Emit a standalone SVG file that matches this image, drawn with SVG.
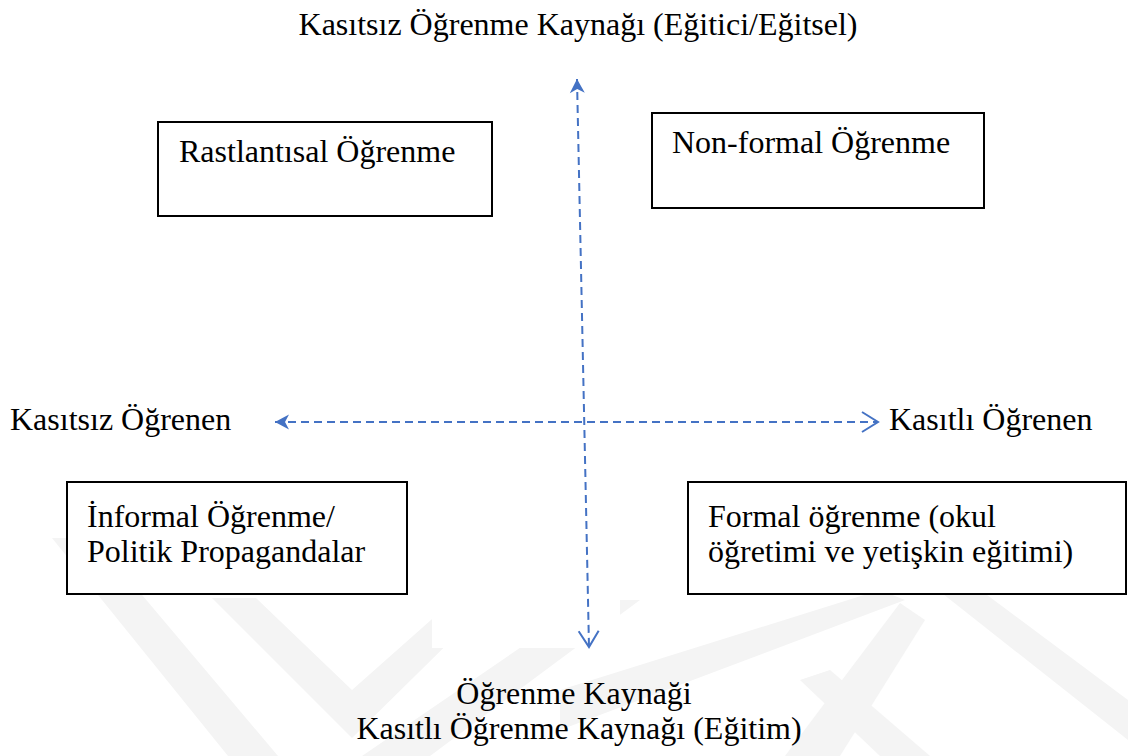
<svg xmlns="http://www.w3.org/2000/svg" width="1128" height="756" viewBox="0 0 1128 756">
  <style>
    .t { font-family: "Liberation Serif", "Times New Roman", serif; font-size: 32px; fill: #000; }
    .box { fill: #fff; stroke: #000; stroke-width: 2; }
    .conn { fill: none; stroke: #4472C4; stroke-width: 2; stroke-dasharray: 8 5; }
    .wm { fill: #f4f4f4; }
  </style>
  <defs>
    <marker id="headFilled" markerUnits="userSpaceOnUse" viewBox="-16 -9 18 18" refX="0" refY="0" markerWidth="18" markerHeight="18" orient="auto-start-reverse">
      <path d="M0,0 L-14,-7.5 L-10,0 L-14,7.5 Z" fill="#4472C4"/>
    </marker>
    <marker id="headOpen" markerUnits="userSpaceOnUse" viewBox="-18 -12 20 24" refX="0" refY="0" markerWidth="20" markerHeight="24" orient="auto">
      <path d="M-16,-10 L0,0 L-16,10" fill="none" stroke="#4472C4" stroke-width="2"/>
    </marker>
  </defs>
  <rect width="1128" height="756" fill="#fff"/>
  <g id="watermark">
    <polygon class="wm" points="52,538 94,538 278,756 228,756"/>
    <polygon class="wm" points="212,598 256,598 352,690 440,612 480,612 352,738"/>
    <polygon class="wm" points="362,756 430,756 640,600 590,600"/>
    <polygon class="wm" points="560,690 560,730 905,600 880,590"/>
    <polygon class="wm" points="785,756 840,756 925,620 900,603"/>
    <polygon class="wm" points="800,680 830,670 930,756 880,756"/>
    <polygon class="wm" points="900,560 940,560 1128,700 1128,740"/>
    <rect x="432" y="540" width="188" height="108" fill="#fff"/>
  </g>
  <g id="title">
    <text class="t" x="578" y="35" text-anchor="middle">Kasıtsız Öğrenme Kaynağı (Eğitici/Eğitsel)</text>
  </g>
  <g id="connectors">
    <line class="conn" x1="577" y1="79" x2="589" y2="647" marker-start="url(#headFilled)" marker-end="url(#headOpen)"/>
    <line class="conn" x1="275" y1="422" x2="878" y2="422" marker-start="url(#headFilled)" marker-end="url(#headOpen)"/>
  </g>
  <g id="node-rastlantisal">
    <rect class="box" x="158" y="122" width="334" height="94"/>
    <text class="t" x="179" y="162">Rastlantısal Öğrenme</text>
  </g>
  <g id="node-nonformal">
    <rect class="box" x="652" y="113" width="332" height="95"/>
    <text class="t" x="672" y="153">Non-formal Öğrenme</text>
  </g>
  <g id="node-informal">
    <rect class="box" x="67" y="482" width="340" height="112"/>
    <text class="t" x="87" y="527">İnformal Öğrenme/</text>
    <text class="t" x="87" y="562">Politik Propagandalar</text>
  </g>
  <g id="node-formal">
    <rect class="box" x="688" y="482" width="438" height="112"/>
    <text class="t" x="708" y="527">Formal öğrenme (okul</text>
    <text class="t" x="708" y="562">öğretimi ve yetişkin eğitimi)</text>
  </g>
  <g id="label-left">
    <text class="t" x="10" y="430">Kasıtsız Öğrenen</text>
  </g>
  <g id="label-right">
    <text class="t" x="889" y="430">Kasıtlı Öğrenen</text>
  </g>
  <g id="label-bottom">
    <text class="t" x="574" y="704" text-anchor="middle">Öğrenme Kaynaği</text>
    <text class="t" x="579" y="739" text-anchor="middle">Kasıtlı Öğrenme Kaynağı (Eğitim)</text>
  </g>
</svg>
